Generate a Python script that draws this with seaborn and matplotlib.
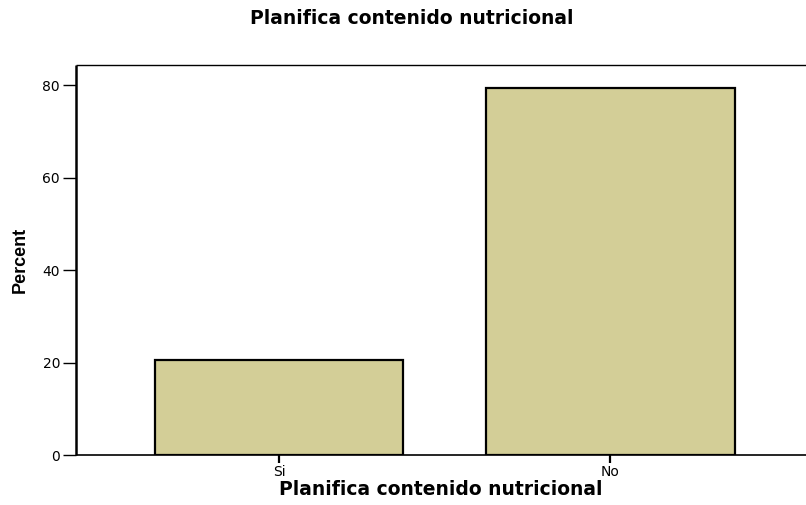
"""Bar chart: Planifica contenido nutricional (percent)."""

import matplotlib
matplotlib.use("Agg")
import matplotlib.pyplot as plt
import pandas as pd
import seaborn as sns

categories = ["Si", "No"]
percents = [20.6, 79.4]

sns.set_style("white")
plt.rcParams["font.family"] = ["DejaVu Sans"]
plt.rcParams["text.color"] = "black"
plt.rcParams["axes.labelcolor"] = "black"
plt.rcParams["xtick.color"] = "black"
plt.rcParams["ytick.color"] = "black"

df = pd.DataFrame({"respuesta": categories, "percent": percents})

fig = plt.figure(figsize=(8.06, 5.05), dpi=100)
ax = fig.add_axes([0.0943, 0.099, 0.9057, 0.772])

sns.barplot(data=df, x="respuesta", y="percent", order=categories,
            color="#D3CE97", saturation=1, width=0.75,
            edgecolor="black", linewidth=1.6, ax=ax)

ax.set_xlim(-0.613, 1.59)
ax.set_ylim(0, 84.3)
ax.set_yticks([0, 20, 40, 60, 80])

for side in ["left", "bottom", "top"]:
    ax.spines[side].set_visible(True)
    ax.spines[side].set_color("black")
    ax.spines[side].set_capstyle("butt")
ax.spines["left"].set_linewidth(1.8)
ax.spines["bottom"].set_linewidth(1.2)
ax.spines["top"].set_linewidth(1.0)
ax.spines["right"].set_visible(False)

ax.tick_params(axis="y", direction="out", length=9.5, width=1.0, pad=2,
               labelsize=10, left=True)
ax.tick_params(axis="x", direction="out", length=6, width=1.6, pad=1,
               labelsize=10, bottom=True)

ax.set_xlabel("Planifica contenido nutricional", fontsize=13.5,
              fontweight="bold", labelpad=1)
ax.set_ylabel("Percent", fontsize=13, fontweight="bold",
              family=["Liberation Sans Narrow", "Liberation Sans"], labelpad=10)
fig.suptitle("Planifica contenido nutricional", fontsize=13.5,
             fontweight="bold", x=0.511, y=0.982)

fig.savefig("out.png", dpi=100)
plt.close(fig)
